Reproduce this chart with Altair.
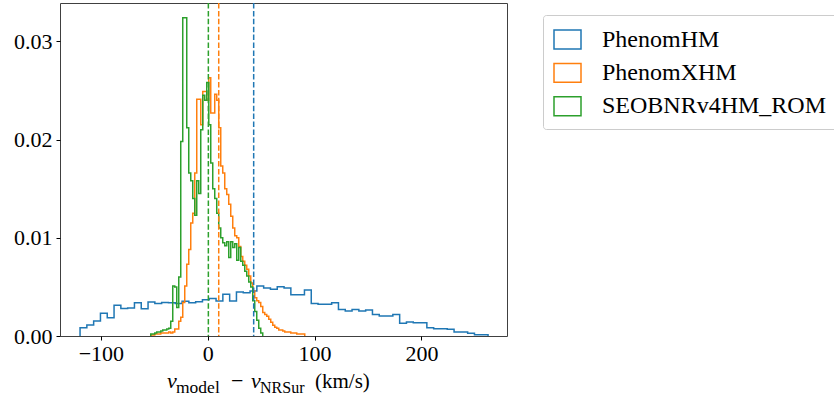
import altair as alt
import pandas as pd

series_names = ["PhenomHM", "PhenomXHM", "SEOBNRv4HM_ROM"]
series_colors = ["#1f77b4", "#ff7f0e", "#2ca02c"]

# PhenomHM histogram (density), bins of equal width
blue_start = -119.44
blue_width = 6.362
blue_heights = [
    0.00085, 0.00112, 0.00153, 0.00231, 0.00187, 0.00312, 0.00281, 0.00285, 0.00339, 0.00278,
    0.00346, 0.00332, 0.00342, 0.00339, 0.00332, 0.00353, 0.00339, 0.00349, 0.00370, 0.00383,
    0.00356, 0.00424, 0.00356, 0.00448, 0.00441, 0.00458, 0.00509, 0.00488, 0.00475, 0.00502,
    0.00488, 0.00420, 0.00420, 0.00468, 0.00332, 0.00322, 0.00322, 0.00339, 0.00271, 0.00254,
    0.00271, 0.00254, 0.00264, 0.00220, 0.00203, 0.00203, 0.00220, 0.00129, 0.00142, 0.00136,
    0.00136, 0.00085, 0.00075, 0.00075, 0.00068, 0.00041, 0.00041, 0.00027, 0.00014, 0.00014,
]

# PhenomXHM histogram
orange_start = -53.3
orange_width = 1.871
orange_heights = [
    0.0001, 0.0001, 0.0002, 0.0002, 0.0002, 0.0003, 0.0003, 0.0003, 0.0003, 0.0004,
    0.0003, 0.0004, 0.0007, 0.0007, 0.0015, 0.0019, 0.0034, 0.0051, 0.0073, 0.0088,
    0.0115, 0.0125, 0.0166, 0.0241, 0.0241, 0.0215, 0.0249, 0.0249, 0.0240, 0.0263,
    0.0227, 0.0227, 0.0246, 0.0240, 0.0212, 0.0173, 0.0166, 0.0150, 0.0144, 0.0134,
    0.0122, 0.0110, 0.0102, 0.0100, 0.0091, 0.0081, 0.0076, 0.0072, 0.0068, 0.0061,
    0.0054, 0.0046, 0.0039, 0.0036, 0.0034, 0.0030, 0.0024, 0.0022, 0.0020, 0.0017,
    0.0014, 0.0011, 0.0009, 0.0008, 0.0006, 0.0006, 0.0005, 0.0004, 0.0004, 0.0004,
    0.0003, 0.0003, 0.0003, 0.0002, 0.0002, 0.0002, 0.0002,
]

# SEOBNRv4HM_ROM histogram
green_start = -53.3
green_width = 1.871
green_heights = [
    0.0002, 0.0002, 0.0003, 0.0004, 0.0004, 0.0005, 0.0006, 0.0006, 0.0007, 0.0008,
    0.0015, 0.0051, 0.0050, 0.0029, 0.0060, 0.0198, 0.0324, 0.0324, 0.0212, 0.0166,
    0.0158, 0.0140, 0.0123, 0.0158, 0.0145, 0.0210, 0.0245, 0.0240, 0.0258, 0.0215,
    0.0176, 0.0150, 0.0140, 0.0125, 0.0110, 0.0100, 0.0095, 0.0092, 0.0096, 0.0080,
    0.0096, 0.0090, 0.0094, 0.0077, 0.0090, 0.0076, 0.0072, 0.0066, 0.0061, 0.0055,
    0.0050, 0.0036, 0.0025, 0.0016, 0.0008, 0.0003,
]

# medians (dashed vertical lines)
medians = [43.0, 10.3, 0.6]

x_ticks = [-100, 0, 100, 200]
y_ticks = [0.0, 0.01, 0.02, 0.03]
x_domain = [-138.2, 280.0]
y_domain = [0.0, 0.0339]


def step_rows(start, width, heights, name):
    rows = []
    edges = [start + i * width for i in range(len(heights) + 1)]
    rows.append((edges[0], 0.0))
    for i, h in enumerate(heights):
        rows.append((edges[i], h))
        rows.append((edges[i + 1], h))
    rows.append((edges[-1], 0.0))
    return pd.DataFrame(
        {"x": [r[0] for r in rows], "y": [r[1] for r in rows],
         "series": name, "ord": list(range(len(rows)))}
    )


hist_df = pd.concat([
    step_rows(blue_start, blue_width, blue_heights, series_names[0]),
    step_rows(orange_start, orange_width, orange_heights, series_names[1]),
    step_rows(green_start, green_width, green_heights, series_names[2]),
], ignore_index=True)

med_df = pd.DataFrame({"x": medians, "series": series_names})

FONT = "Liberation Serif"

x_scale = alt.Scale(domain=x_domain, nice=False, zero=False)
y_scale = alt.Scale(domain=y_domain, nice=False, zero=False)
color_scale = alt.Scale(domain=series_names, range=series_colors)

x_axis = alt.Axis(values=x_ticks, format="d", title=None, grid=False, domain=False,
                  tickColor="black", tickSize=4, tickWidth=1, labelFont=FONT,
                  labelFontSize=22, labelColor="black", labelPadding=3)
y_axis = alt.Axis(values=y_ticks, format=".2f", title=None, grid=False, domain=False,
                  tickColor="black", tickSize=4, tickWidth=1, labelFont=FONT,
                  labelFontSize=22, labelColor="black", labelPadding=4)

legend = alt.Legend(
    orient="none", legendX=483, legendY=12,
    symbolType="M-1,-0.7H1V0.7H-1Z", symbolSize=729, symbolStrokeWidth=1.5,
    symbolFillColor="transparent",
    labelFont=FONT, labelFontSize=24, labelColor="black", labelOffset=20,
    labelLimit=400, rowPadding=6.4, padding=10,
    strokeColor="#cccccc", fillColor="white", cornerRadius=3,
)

hist = alt.Chart(hist_df).mark_line(strokeWidth=1.5, clip=True).encode(
    x=alt.X("x:Q", scale=x_scale, axis=x_axis),
    y=alt.Y("y:Q", scale=y_scale, axis=y_axis),
    color=alt.Color("series:N", scale=color_scale, legend=legend, title=None),
    order=alt.Order("ord:Q"),
)

rules = alt.Chart(med_df).mark_rule(strokeWidth=1.5, strokeDash=[5.5, 2.4]).encode(
    x=alt.X("x:Q", scale=x_scale),
    stroke=alt.Stroke("series:N", scale=color_scale, legend=None),
)

one = pd.DataFrame({"k": [0]})


def txt(s, x, y, size, italic=False):
    return alt.Chart(one).mark_text(
        text=s, font=FONT, fontSize=size, fontStyle="italic" if italic else "normal",
        align="left", baseline="alphabetic", color="black",
    ).encode(x=alt.value(x), y=alt.value(y))


title_layers = [
    txt("v", 107, 385, 22, italic=True),
    txt("model", 116, 389.5, 17.5),
    txt("\u2212", 171, 385, 22),
    txt("v", 191, 385, 22, italic=True),
    txt("NRSur", 200, 389.5, 16),
    txt("(km/s)", 255, 385, 21),
]

chart = alt.layer(hist, rules, *title_layers).resolve_scale(
    stroke="independent"
).properties(
    width=447, height=333,
    autosize=alt.AutoSizeParams(type="none"),
    padding={"left": 60, "top": 3, "right": 327, "bottom": 67},
).configure_view(stroke="#404040", strokeWidth=1)

chart.save("out.html", embed_options={"renderer": "svg", "actions": False})
